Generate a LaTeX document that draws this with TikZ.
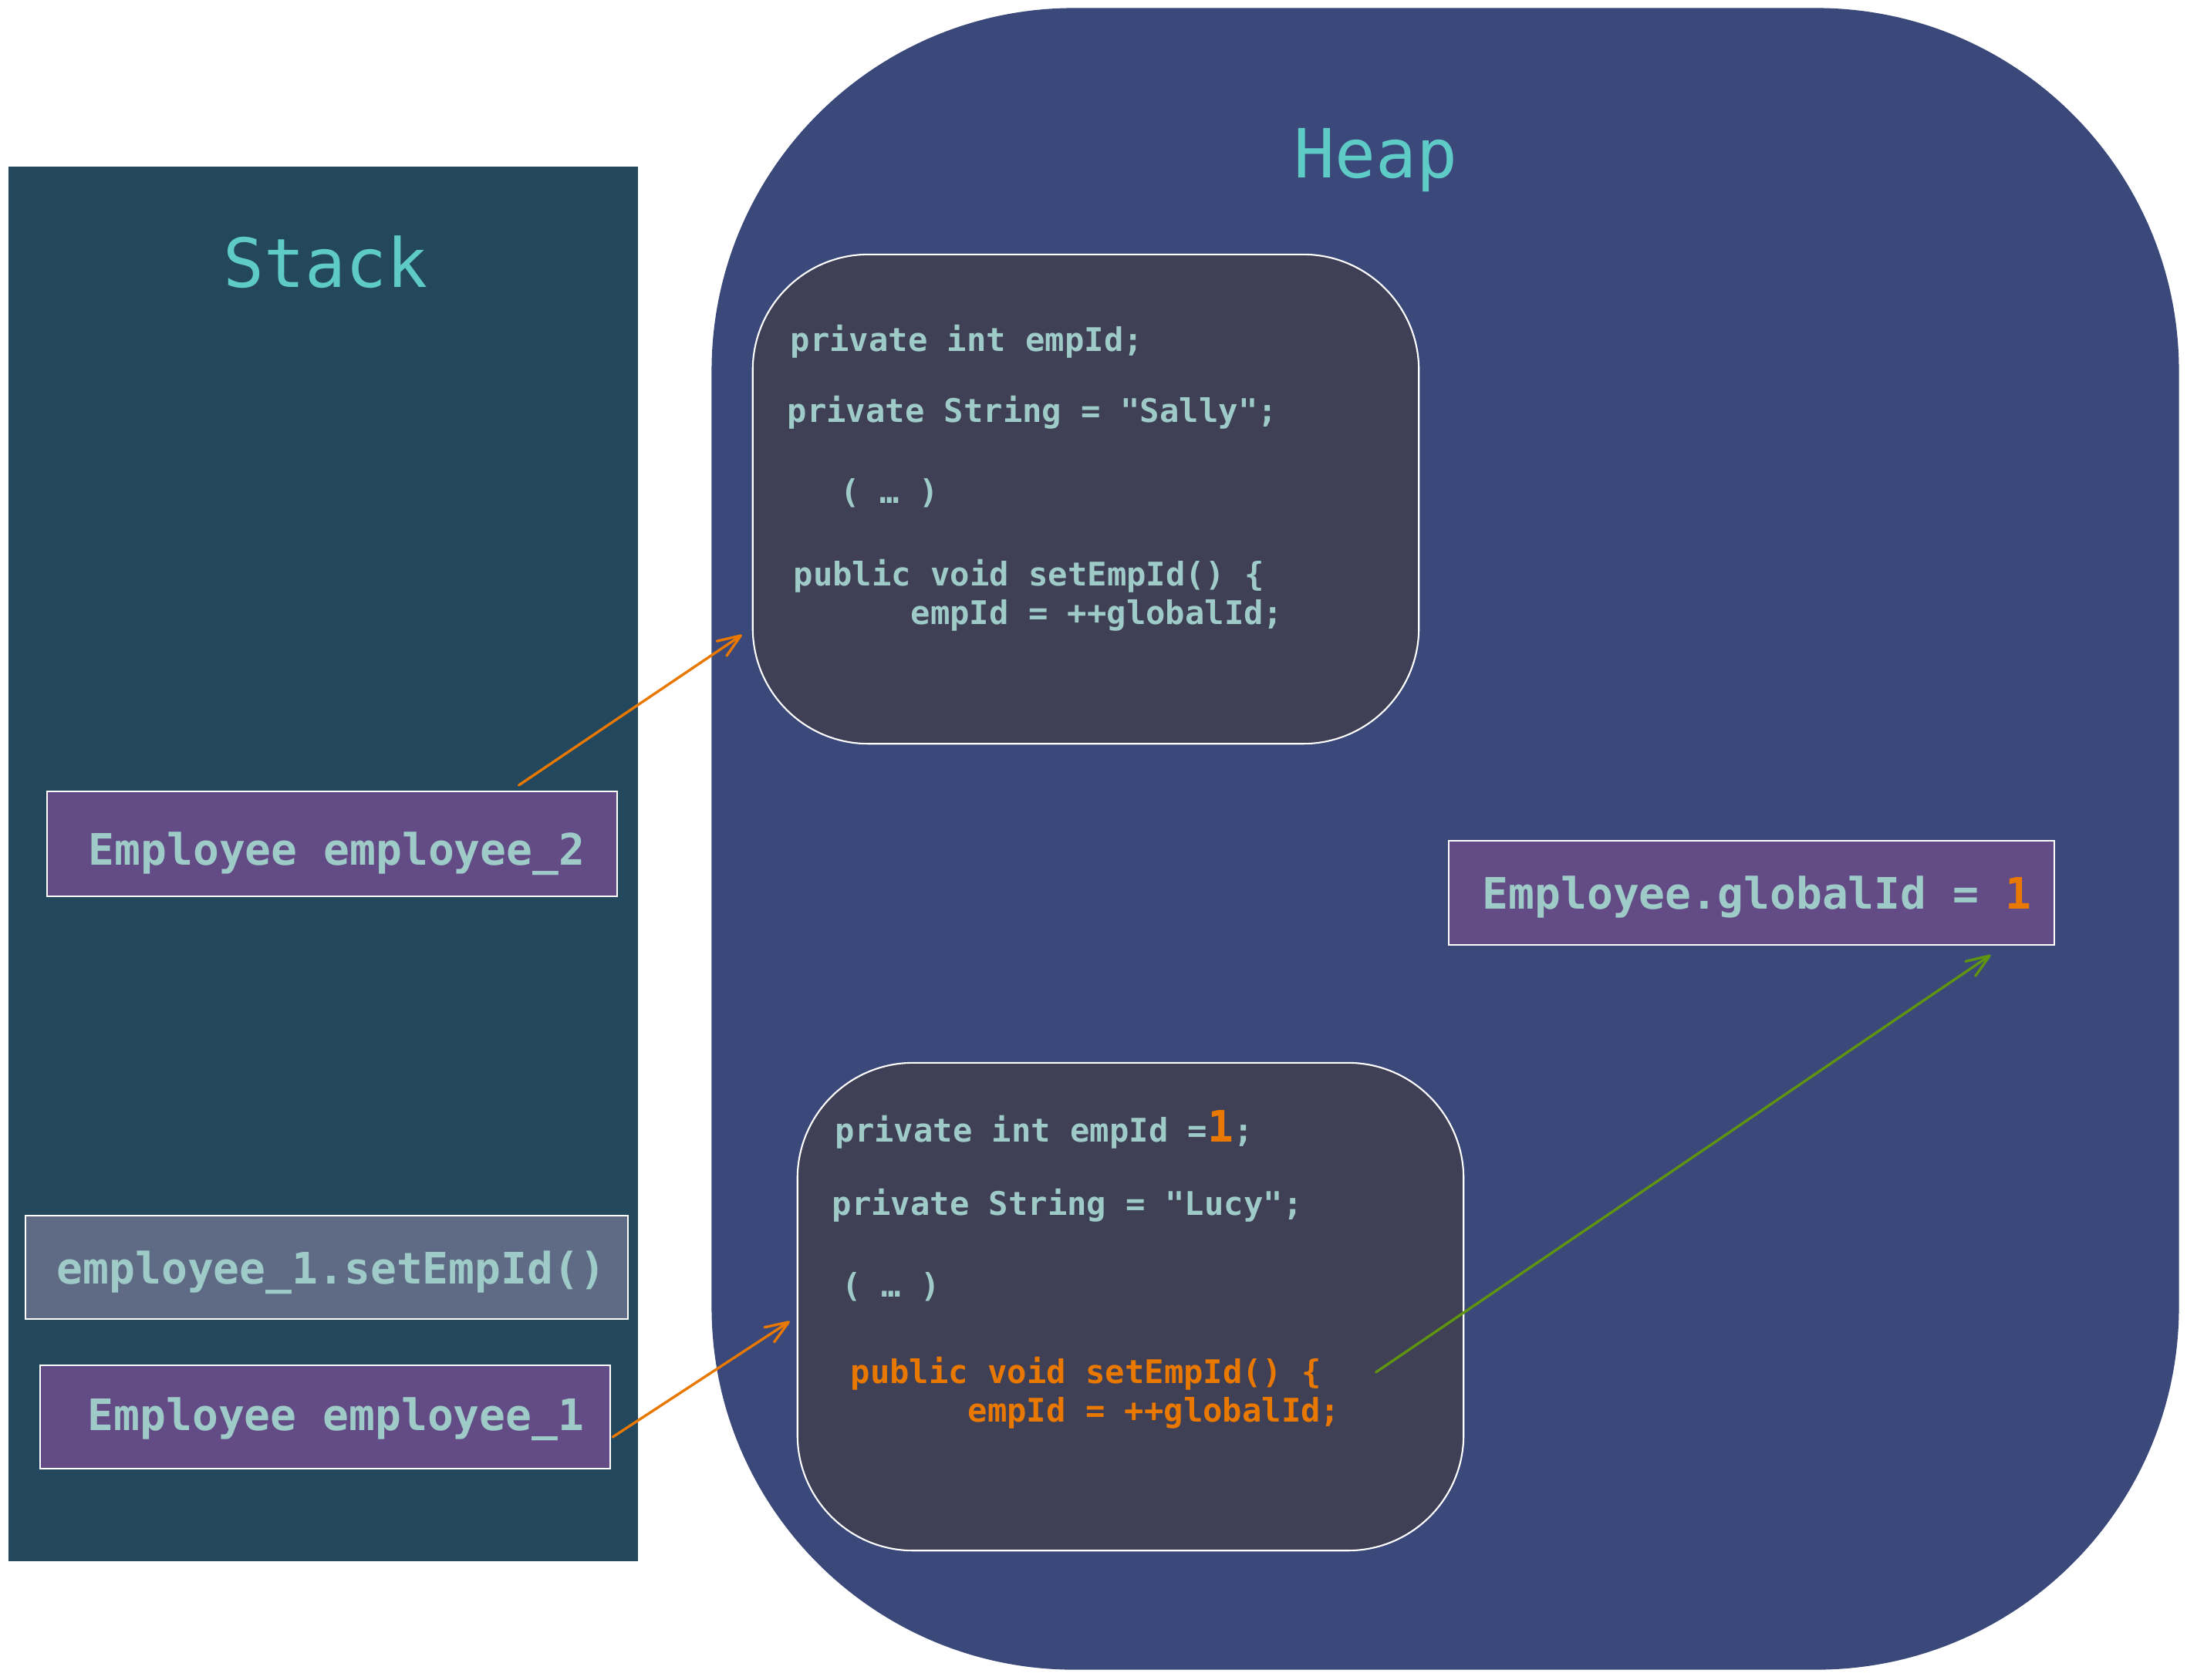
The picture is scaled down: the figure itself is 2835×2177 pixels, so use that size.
\documentclass[tikz,border=0pt]{standalone}
\usepackage{fontspec}
\setmonofont{DejaVu Sans Mono}
\usetikzlibrary{arrows.meta}

\definecolor{stackbg}{HTML}{23475D}
\definecolor{heapbg}{HTML}{3A487A}
\definecolor{objbg}{HTML}{3F3F56}
\definecolor{refbg}{HTML}{634B86}
\definecolor{callbg}{HTML}{5F6A85}
\definecolor{codecol}{HTML}{9ECBC8}
\definecolor{titlecol}{HTML}{5FCBC7}
\definecolor{accent}{HTML}{E87800}
\definecolor{linkgreen}{HTML}{5E9410}

\newcommand{\cdfont}{\ttfamily\bfseries\fontsize{12pt}{14pt}\selectfont}
\newcommand{\lblfont}{\ttfamily\bfseries\fontsize{16pt}{18pt}\selectfont}
\newcommand{\ttlfont}{\ttfamily\fontsize{25pt}{28pt}\selectfont}
\newcommand{\bigone}{\fontsize{16pt}{16pt}\selectfont 1}

\tikzset{
  area/.style={rectangle, draw=none, inner sep=0pt, outer sep=0pt},
  objbox/.style={rectangle, draw=white, line width=0.6pt, fill=objbg,
    rounded corners=1.5cm, inner sep=0pt, outer sep=0pt},
  refbox/.style={rectangle, draw=white, line width=0.6pt, fill=refbg,
    inner sep=0pt, outer sep=0pt},
  codeline/.style={anchor=base west, inner sep=0pt, text=codecol, font=\cdfont},
  hotline/.style={codeline, text=accent},
  label/.style={anchor=base west, inner sep=0pt, text=codecol, font=\lblfont},
  title/.style={anchor=base west, inner sep=0pt, text=titlecol, font=\ttlfont},
  refarrow/.style={draw=accent, line width=0.95pt, line cap=round,
    -{Straight Barb[length=8.5pt, width=6.5pt, round]}},
  idarrow/.style={refarrow, draw=linkgreen}
}

\begin{document}
\begin{tikzpicture}[x=0.01cm, y=-0.01cm]
  \useasboundingbox[fill=white] (0,0) rectangle (2835,2177);

  % memory regions
  \node[area, fill=stackbg, minimum width=8.16cm, minimum height=18.06cm]
    (stack) at (419,1120) {};
  \node[area, fill=heapbg, rounded corners=4.7cm,
    minimum width=19.01cm, minimum height=21.53cm] (heap) at (1873.5,1087.5) {};

  \node[title] (stacktitle) at (289,372) {Stack};
  \node[title] (heaptitle) at (1677,230) {Heap};

  % Sally's object
  \node[objbox, minimum width=8.63cm, minimum height=6.34cm] (obj2) at (1407.5,647) {};
  \node[codeline] (s1) at (1024,455) {private int empId;};
  \node[codeline] (s2) at (1020,547) {private String = "Sally";};
  \node[codeline] (s3) at (1089,652) {( … )};
  \node[codeline] (s4) at (1028,759) {public void setEmpId() \{};
  \node[codeline] (s5) at (1180,809) {empId = ++globalId;};

  % Lucy's object
  \node[objbox, minimum width=8.63cm, minimum height=6.32cm] (obj1) at (1465.5,1694) {};
  \node[codeline] (u1) at (1082,1480) {private int empId =\textcolor{accent}{\bigone};};
  \node[codeline] (u2) at (1078,1575) {private String = "Lucy";};
  \node[codeline] (u3) at (1091,1681) {( … )};
  \node[hotline] (u4) at (1102,1793) {public void setEmpId() \{};
  \node[hotline] (u5) at (1254,1843) {empId = ++globalId;};

  % static field
  \node[refbox, minimum width=7.85cm, minimum height=1.35cm] (gid) at (2270.5,1157.5) {};
  \node[label] (gidtext) at (1921,1178) {Employee.globalId = \textcolor{accent}{1}};

  % stack frames
  \node[refbox, minimum width=7.39cm, minimum height=1.36cm] (e2) at (430.5,1094) {};
  \node[label] (e2text) at (114,1121) {Employee employee\_2};
  \node[refbox, fill=callbg, minimum width=7.81cm, minimum height=1.34cm] (call) at (423.5,1643) {};
  \node[label] (calltext) at (73,1664) {employee\_1.setEmpId()};
  \node[refbox, minimum width=7.39cm, minimum height=1.34cm] (e1) at (421.5,1837) {};
  \node[label] (e1text) at (113,1854) {Employee employee\_1};

  % references
  \draw[refarrow] ([shift={(242,-8)}]e2.north) -- ([shift={(-14,176)}]obj2.west);
  \draw[refarrow] ([shift={(3,26)}]e1.east) -- ([shift={(-10,19)}]obj1.west);
  \draw[idarrow] ([shift={(318,85)}]obj1.center) -- ([shift={(310,13)}]gid.south);
\end{tikzpicture}
\end{document}
